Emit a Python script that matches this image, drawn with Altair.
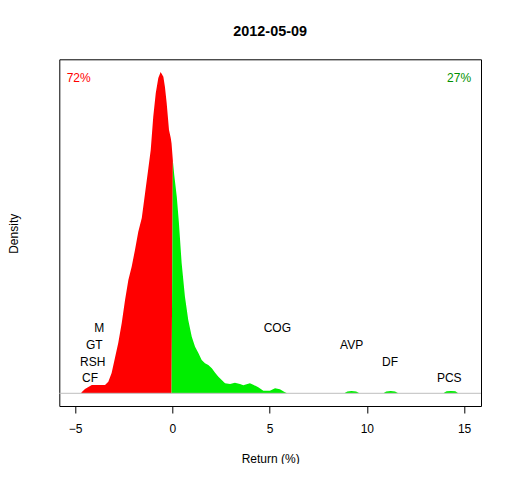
import altair as alt
import pandas as pd

# ---- density curve (negative returns, red) ----
neg_x = [-4.69, -4.66, -4.49, -4.14, -3.46, -3.29, -3.12, -2.95, -2.78, -2.60,
         -2.43, -2.26, -2.09, -1.92, -1.75, -1.57, -1.40, -1.23, -1.11, -0.98,
         -0.85, -0.72, -0.60, -0.46, -0.38, -0.29, -0.17, -0.08, -0.04]
neg_y = [0.0, 0.0010, 0.0043, 0.0083, 0.0083, 0.0116, 0.0203, 0.0353, 0.0503, 0.0703,
         0.0933, 0.1133, 0.1266, 0.1433, 0.1616, 0.1753, 0.2003, 0.2253, 0.2433, 0.2766,
         0.3003, 0.3153, 0.3213, 0.3166, 0.3066, 0.2903, 0.2633, 0.2553, 0.2500]

# ---- density curve (positive returns, green) ----
pos_x = [0.03, 0.10, 0.23, 0.34, 0.48, 0.65, 0.82, 1.00, 1.17, 1.34,
         1.51, 1.68, 1.85, 2.03, 2.20, 2.37, 2.54, 2.71, 2.97, 3.22,
         3.48, 3.65, 3.99, 4.16, 4.42, 4.68, 5.02, 5.28, 5.53, 5.79, 5.90,
         8.84, 9.00, 9.21, 9.45, 9.62,
         10.85, 11.00, 11.23, 11.45, 11.62,
         13.93, 14.10, 14.32, 14.55, 14.70]
pos_y = [0.2323, 0.2183, 0.1966, 0.1703, 0.1303, 0.0966, 0.0733, 0.0566, 0.0466, 0.0403,
         0.0333, 0.0300, 0.0283, 0.0250, 0.0206, 0.0166, 0.0133, 0.0100, 0.0093, 0.0106,
         0.0093, 0.0080, 0.0100, 0.0086, 0.0060, 0.0026, 0.0026, 0.0050, 0.0040, 0.0010, 0.0,
         0.0, 0.0018, 0.0023, 0.0018, 0.0,
         0.0, 0.0018, 0.0023, 0.0018, 0.0,
         0.0, 0.0020, 0.0024, 0.0020, 0.0]

# ---- ticker labels ----
tickers = ["M", "GT", "RSH", "CF", "COG", "AVP", "DF", "PCS"]
ticker_x = [-3.75, -4.01, -4.09, -4.23, 5.40, 9.22, 11.19, 14.24]
ticker_y = [0.0656, 0.0486, 0.0316, 0.0156, 0.0656, 0.0486, 0.0316, 0.0156]

# ---- share labels ----
share_text = ["72%", "27%"]
share_x = [-5.43, 15.36]
share_y = [0.3156, 0.3156]
share_color = ["#FF0000", "#009000"]

x_ticks = [-5, 0, 5, 10, 15]
x_domain = [-5.81, 15.87]
y_domain = [-0.0127, 0.334]

FONT = "Liberation Sans"

dens = pd.DataFrame({
    "ret": neg_x + pos_x,
    "density": neg_y + pos_y,
    "side": ["neg"] * len(neg_x) + ["pos"] * len(pos_x),
})
tick_df = pd.DataFrame({"name": tickers, "ret": ticker_x, "density": ticker_y})
share_df = pd.DataFrame({"label": share_text, "ret": share_x, "density": share_y})

xscale = alt.Scale(domain=x_domain, nice=False, zero=False)
yscale = alt.Scale(domain=y_domain, nice=False, zero=False)

xaxis = alt.Axis(values=x_ticks, title="Return (%)", domain=False, grid=False,
                 tickSize=7, tickColor="black", tickWidth=1,
                 labelFontSize=12, labelColor="black", labelFont=FONT, labelPadding=10,
                 titleFontSize=12, titleFontWeight="normal", titleColor="black", titleFont=FONT,
                 titleY=52, titleBaseline="middle")
yaxis = alt.Axis(title="Density", domain=False, grid=False, ticks=False, labels=False,
                 titleFontSize=12, titleFontWeight="normal", titleColor="black", titleFont=FONT,
                 titleX=-46, titleY=174, titleBaseline="middle", titleAngle=270)

areas = alt.Chart(dens).mark_area(interpolate="linear", clip=True).encode(
    x=alt.X("ret:Q", scale=xscale, axis=xaxis),
    y=alt.Y("density:Q", scale=yscale, axis=yaxis),
    color=alt.Color("side:N", scale=alt.Scale(domain=["neg", "pos"], range=["#FF0000", "#00EE00"]),
                    legend=None),
    detail="side:N",
)

baseline = alt.Chart(pd.DataFrame({"y": [0.0]})).mark_rule(color="#BEBEBE", strokeWidth=1).encode(
    y=alt.Y("y:Q", scale=yscale)
)

ticker_text = alt.Chart(tick_df).mark_text(font=FONT, fontSize=12, color="black",
                                           align="center", baseline="middle").encode(
    x=alt.X("ret:Q", scale=xscale),
    y=alt.Y("density:Q", scale=yscale),
    text="name:N",
)

share_left = alt.Chart(share_df.iloc[[0]]).mark_text(font=FONT, fontSize=12, align="left",
                                                     baseline="middle", color=share_color[0]).encode(
    x=alt.X("ret:Q", scale=xscale), y=alt.Y("density:Q", scale=yscale), text="label:N")
share_right = alt.Chart(share_df.iloc[[1]]).mark_text(font=FONT, fontSize=12, align="right",
                                                      baseline="middle", color=share_color[1]).encode(
    x=alt.X("ret:Q", scale=xscale), y=alt.Y("density:Q", scale=yscale), text="label:N")

chart = alt.layer(areas, baseline, ticker_text, share_left, share_right).properties(
    width=421.7,
    height=346.7,
    title=alt.TitleParams("2012-05-09", font=FONT, fontSize=14.4, fontWeight="bold",
                          color="black", anchor="middle", baseline="middle", offset=13),
    autosize=alt.AutoSizeParams(type="none"),
    padding={"left": 51.3, "top": 51.3, "right": 22, "bottom": 58},
).configure(background="white").configure_view(stroke="black", strokeWidth=1, fill="white")

chart.save("out.html", embed_options={"renderer": "svg", "actions": False})
